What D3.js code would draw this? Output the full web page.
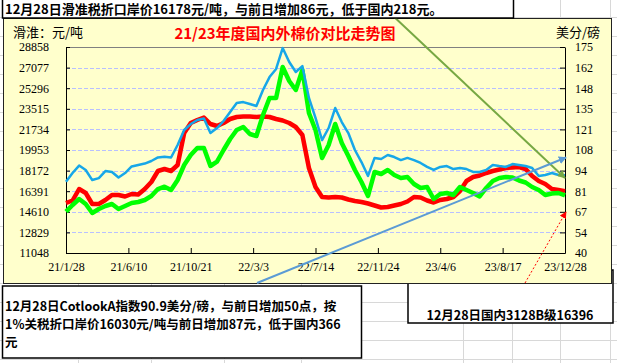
<!DOCTYPE html>
<html>
<head>
<meta charset="utf-8">
<script src="https://cdn.jsdelivr.net/npm/d3@7"></script>
<style>
  body { margin: 0; background: #fff; }
  svg { display: block; }
</style>
</head>
<body>
<div class="container"></div>
<script>
(function() {
  // Series: one point every 14 days, from 21/1/28 to 23/12/28
  var startDate = '21/1/28';
  var stepDays = 14;

  // Cotlook A index, 美分/磅 (blue, right axis)
  var cotlookA = [86.7, 92.4, 97.3, 94.4, 87.8, 89.1, 93.7, 93.1, 89.5, 92.4,
    96.7, 97.7, 98.6, 100.3, 102.6, 103.1, 102.6, 110.8, 120.6, 124.5,
    127.2, 128.1, 118.6, 121.9, 126.5, 132.4, 138.3, 138.9, 137.6, 136.3,
    146.8, 155.3, 160.6, 174.3, 165.2, 158.6, 162.5, 141.6, 128.5, 114,
    121.9, 135, 125.8, 118.6, 107.5, 99.6, 90.5, 102.3, 101.6, 104.2,
    102.9, 100.9, 102.3, 100.9, 99, 96.4, 94.4, 96.4, 97, 95,
    95.7, 95, 93.1, 93.1, 94.4, 97.7, 97, 96.4, 98.3, 97.7,
    97, 95.7, 90.5, 91.1, 92.4, 91.1, 90.9];

  // 国内3128B, 元/吨 (red, left axis)
  var domestic = [15371, 15587, 16581, 16236, 15285, 15285, 15630, 16063, 16063, 15933,
    16149, 16106, 16581, 17187, 18138, 18311, 18138, 18656, 21423, 22288,
    22547, 22763, 22201, 22028, 22288, 22634, 22807, 22850, 22850, 22807,
    22850, 22807, 22634, 22504, 22288, 21942, 21250, 18397, 16754, 15890,
    15847, 15890, 15847, 15674, 15544, 15457, 15328, 15155, 14982, 15025,
    15155, 15285, 15501, 15890, 15847, 15587, 15414, 15630, 15717, 15890,
    16409, 17273, 17619, 17749, 17965, 18138, 18267, 18397, 18440, 18484,
    18311, 17705, 17273, 17014, 16581, 16495, 16396];

  // 1%关税折口岸价, 元/吨 (green, left axis)
  var importPrice = [14619, 15198, 15717, 15285, 14506, 14852, 15112, 15285, 14852, 15112,
    15371, 15457, 15630, 15976, 16581, 16780, 16495, 17360, 18656, 19521,
    20126, 20126, 18570, 18942, 19953, 20904, 21683, 21942, 21337, 21164,
    22979, 24449, 24449, 27130, 25919, 25141, 26870, 23152, 21683, 19262,
    20386, 22201, 20559, 19435, 18224, 17187, 15976, 18051, 17878, 18224,
    17792, 17533, 17619, 17014, 16668, 16754, 15717, 16149, 16236, 16063,
    16754, 16495, 16236, 15933, 16668, 17273, 17533, 17619, 17576, 17316,
    17143, 16754, 16495, 16063, 16192, 16236, 16030];

  var xTickLabels = ['21/1/28', '21/6/10', '21/10/21', '22/3/3', '22/7/14', '22/11/24', '23/4/6', '23/8/17', '23/12/28'];
  var leftTicks = [11048, 12829, 14610, 16391, 18172, 19953, 21734, 23515, 25296, 27077, 28858];
  var rightTicks = [40, 53.5, 67, 80.5, 94, 107.5, 121, 134.5, 148, 161.5, 175];
  var rightTickLabels = ['40', '54', '67', '81', '94', '108', '121', '135', '148', '162', '175'];

  var title = '21/23年度国内外棉价对比走势图';
  var leftUnit = '滑淮：元/吨';
  var rightUnit = '美分/磅';
  var topNote = '12月28日滑准税折口岸价16178元/吨，与前日增加86元，低于国内218元。';
  var cotlookNote = ['12月28日CotlookA指数90.9美分/磅，与前日增加50点，按',
    '1%关税折口岸价16030元/吨与前日增加87元，低于国内366', '元'];
  var domesticNote = '12月28日国内3128B级16396';

  // Layout
  var W = 617, H = 363;
  var plot = { left: 66, right: 565, top: 47, bottom: 253 };
  var cjk = '"Noto Sans CJK SC", "Noto Sans", sans-serif';
  var serif = '"Liberation Serif", "DejaVu Serif", serif';

  var svg = d3.select('div.container').append('svg')
    .attr('width', W).attr('height', H);

  // spreadsheet background
  svg.append('rect').attr('width', W).attr('height', H).attr('fill', '#fff');
  var sheet = svg.append('g').attr('stroke', '#d8d8d8').attr('stroke-width', 1);
  for (var ry = 17; ry < H; ry += 19) {
    sheet.append('line').attr('x1', 0).attr('x2', W).attr('y1', ry + 0.5).attr('y2', ry + 0.5);
  }
  [78, 151, 224, 301, 463, 512, 560, 610].forEach(function(cx) {
    sheet.append('line').attr('x1', cx + 0.5).attr('x2', cx + 0.5).attr('y1', 0).attr('y2', H);
  });

  // text boxes under the chart
  svg.append('rect').attr('x', 408).attr('y', 270).attr('width', 205).attr('height', 53)
    .attr('fill', '#fff').attr('stroke', '#000').attr('stroke-width', 1.5);
  svg.append('text').attr('x', 510).attr('y', 320).attr('text-anchor', 'middle')
    .attr('font-family', cjk).attr('font-weight', 'bold').attr('font-size', 12.5)
    .text(domesticNote);

  svg.append('rect').attr('x', 2.5).attr('y', 286).attr('width', 359).attr('height', 72)
    .attr('fill', '#fff').attr('stroke', '#000').attr('stroke-width', 1.5);
  svg.append('g').selectAll('text').data(cotlookNote).enter().append('text')
    .attr('x', 5).attr('y', function(d, i) { return 311 + i * 18.2; })
    .attr('font-family', cjk).attr('font-weight', 'bold').attr('font-size', 12.5)
    .text(function(d) { return d; });

  // chart area
  svg.append('rect').attr('x', 3.5).attr('y', 18.5).attr('width', 608).attr('height', 265)
    .attr('fill', '#ffffcc').attr('stroke', '#222').attr('stroke-width', 1);

  // scales
  var parse = d3.timeParse('%y/%m/%d');
  var t0 = parse(startDate);
  var dates = cotlookA.map(function(d, i) { return d3.timeDay.offset(t0, i * stepDays); });
  var tickDates = xTickLabels.map(function(s) { return parse(s); });

  var x = d3.scaleTime().domain([tickDates[0], tickDates[tickDates.length - 1]])
    .range([plot.left, plot.right]);
  var yLeft = d3.scaleLinear().domain([leftTicks[0], leftTicks[leftTicks.length - 1]])
    .range([plot.bottom, plot.top]);
  var yRight = d3.scaleLinear().domain([rightTicks[0], rightTicks[rightTicks.length - 1]])
    .range([plot.bottom, plot.top]);

  // gridlines
  svg.append('g').selectAll('line').data(leftTicks.slice(1, -1)).enter().append('line')
    .attr('x1', plot.left).attr('x2', plot.right)
    .attr('y1', function(d) { return Math.round(yLeft(d)) + 0.5; })
    .attr('y2', function(d) { return Math.round(yLeft(d)) + 0.5; })
    .attr('stroke', '#b8c0ff').attr('stroke-width', 1).attr('stroke-dasharray', '4,2');
  svg.append('line').attr('x1', plot.left).attr('x2', plot.right)
    .attr('y1', plot.top + 0.5).attr('y2', plot.top + 0.5)
    .attr('stroke', '#808080').attr('stroke-width', 1);

  // axes
  var styleAxis = function(g) {
    g.attr('font-family', serif).attr('font-size', 12);
    g.selectAll('path, line').attr('stroke', '#000');
    g.selectAll('text').attr('fill', '#000');
  };
  svg.append('g').attr('transform', 'translate(' + plot.left + ',0)')
    .call(d3.axisLeft(yLeft).tickValues(leftTicks).tickFormat(d3.format('d'))
      .tickSizeInner(-4).tickSizeOuter(0).tickPadding(17))
    .call(styleAxis);
  svg.append('g').attr('transform', 'translate(' + plot.right + ',0)')
    .call(d3.axisRight(yRight).tickValues(rightTicks)
      .tickFormat(function(d, i) { return rightTickLabels[i]; })
      .tickSizeInner(-5).tickSizeOuter(0).tickPadding(10))
    .call(styleAxis);
  svg.append('g').attr('transform', 'translate(0,' + plot.bottom + ')')
    .call(d3.axisBottom(x).tickValues(tickDates)
      .tickFormat(function(d, i) { return xTickLabels[i]; })
      .tickSizeInner(-5).tickSizeOuter(0).tickPadding(9))
    .call(styleAxis);

  // series lines
  var lineLeft = d3.line()
    .x(function(d, i) { return x(dates[i]); })
    .y(function(d) { return yLeft(d); });
  var lineRight = d3.line()
    .x(function(d, i) { return x(dates[i]); })
    .y(function(d) { return yRight(d); });

  svg.append('path').datum(domestic).attr('d', lineLeft)
    .attr('fill', 'none').attr('stroke', '#ff0000').attr('stroke-width', 4.5)
    .attr('stroke-linejoin', 'round');
  svg.append('path').datum(importPrice).attr('d', lineLeft)
    .attr('fill', 'none').attr('stroke', '#00ff00').attr('stroke-width', 4.5)
    .attr('stroke-linejoin', 'round');
  svg.append('path').datum(cotlookA).attr('d', lineRight)
    .attr('fill', 'none').attr('stroke', '#17a7e8').attr('stroke-width', 2.5)
    .attr('stroke-linejoin', 'round');

  // titles
  svg.append('text').attr('x', 285).attr('y', 39).attr('text-anchor', 'middle')
    .attr('font-family', cjk).attr('font-weight', 'bold').attr('font-size', 15)
    .attr('fill', '#ff0000').text(title);
  svg.append('text').attr('x', 13).attr('y', 37)
    .attr('font-family', cjk).attr('font-size', 13).text(leftUnit);
  svg.append('text').attr('x', 600).attr('y', 37).attr('text-anchor', 'end')
    .attr('font-family', cjk).attr('font-size', 13).text(rightUnit);

  // annotation arrows
  var defs = svg.append('defs');
  var addArrow = function(id, color, size) {
    defs.append('marker').attr('id', id)
      .attr('viewBox', '0 0 10 10').attr('refX', 9).attr('refY', 5)
      .attr('markerUnits', 'userSpaceOnUse')
      .attr('markerWidth', size).attr('markerHeight', size)
      .attr('orient', 'auto')
      .append('path').attr('d', 'M0,0L10,5L0,10z').attr('fill', color);
  };
  addArrow('arrGreen', '#77a843', 8);
  addArrow('arrBlue', '#5b9bd5', 8);
  addArrow('arrRed', '#ff0000', 7);

  svg.append('line').attr('x1', 390).attr('y1', 13).attr('x2', 565).attr('y2', 178)
    .attr('stroke', '#77a843').attr('stroke-width', 2).attr('marker-end', 'url(#arrGreen)');
  svg.append('line').attr('x1', 257).attr('y1', 283).attr('x2', 566).attr('y2', 157.5)
    .attr('stroke', '#5b9bd5').attr('stroke-width', 2).attr('marker-end', 'url(#arrBlue)');
  svg.append('line').attr('x1', 525).attr('y1', 283).attr('x2', 566).attr('y2', 212)
    .attr('stroke', '#ff0000').attr('stroke-width', 1).attr('stroke-dasharray', '2,2')
    .attr('marker-end', 'url(#arrRed)');

  // top note box
  svg.append('rect').attr('x', 2.5).attr('y', -2).attr('width', 511).attr('height', 20)
    .attr('fill', '#fff').attr('stroke', '#000').attr('stroke-width', 1.5);
  svg.append('text').attr('x', 5).attr('y', 14)
    .attr('font-family', cjk).attr('font-weight', 'bold').attr('font-size', 13)
    .text(topNote);
}).call(this);
</script>
</body>
</html>
